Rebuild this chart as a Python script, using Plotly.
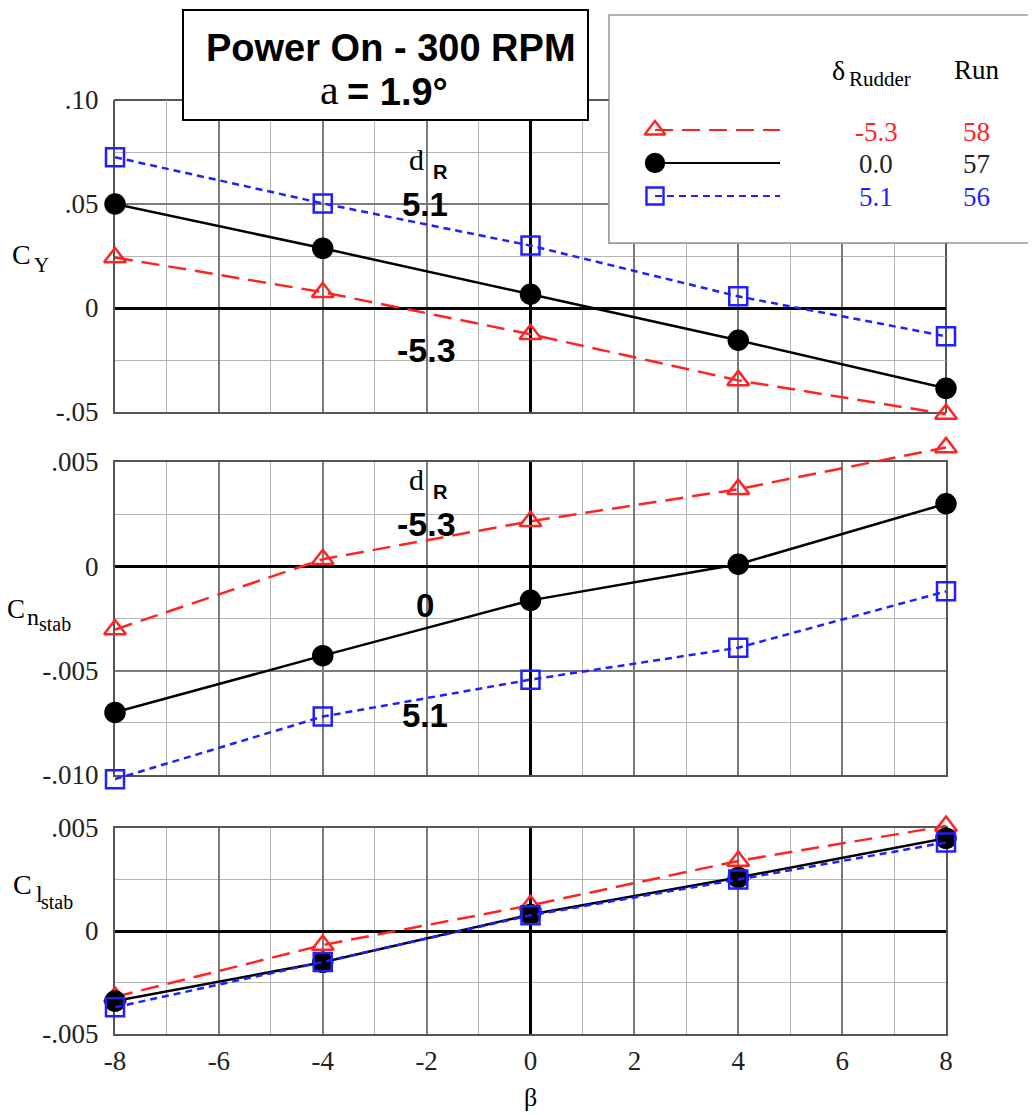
import plotly.graph_objects as go

OFF = 8  # page body margin of the browser
W, H = 1036 - OFF, 1115 - OFF

beta = [-8, -4, 0, 4, 8]

# C_Y
cy_m53 = [0.0243, 0.0076, -0.0126, -0.0348, -0.0510]
cy_0 = [0.0500, 0.0287, 0.0066, -0.0155, -0.0386]
cy_51 = [0.0725, 0.0503, 0.0300, 0.0056, -0.0136]

# C_n stab
cn_m53 = [-0.00303, 0.00034, 0.00216, 0.00370, 0.00570]
cn_0 = [-0.00700, -0.00428, -0.00163, 0.00010, 0.00300]
cn_51 = [-0.01020, -0.00720, -0.00543, -0.00390, -0.00120]

# C_l stab
cl_m53 = [-0.00320, -0.00068, 0.00125, 0.00340, 0.00510]
cl_0 = [-0.00340, -0.00152, 0.00080, 0.00260, 0.00450]
cl_51 = [-0.00370, -0.00150, 0.00076, 0.00250, 0.00430]

x_ticks = [-8, -6, -4, -2, 0, 2, 4, 6, 8]
cy_ticks = [-0.05, 0, 0.05, 0.10]
cy_labels = ["-.05", "0", ".05", ".10"]
cn_ticks = [-0.010, -0.005, 0, 0.005]
cn_labels = ["-.010", "-.005", "0", ".005"]
cl_ticks = [-0.005, 0, 0.005]
cl_labels = ["-.005", "0", ".005"]

rudder_labels = ["-5.3", "0.0", "5.1"]
run_labels = ["58", "57", "56"]

RED = "#ff2424"
BLACK = "#000000"
BLUE = "#1f1fff"

styles = [
    dict(color=RED, dash="18px,9px", symbol="triangle-up-open", size=19),
    dict(color=BLACK, dash="solid", symbol="circle", size=19),
    dict(color=BLUE, dash="7px,5px", symbol="square-open", size=18),
]

def px_x(p):
    return (p - OFF) / W

def px_y(p):
    return 1 - (p - OFF) / H

X_L, X_R = 115, 946
xdom = [px_x(X_L), px_x(X_R)]
MAJ = "#7a7a7a"
MIN = "#b4b4b4"
FRAME = "#555"
tickfont = dict(family="Liberation Serif", size=27, color="#222")

panels = [
    (100, 412, [-0.05, 0.10], cy_ticks, cy_labels, 0.025, [cy_m53, cy_0, cy_51]),
    (462, 775, [-0.010, 0.005], cn_ticks, cn_labels, 0.0025, [cn_m53, cn_0, cn_51]),
    (828, 1034, [-0.005, 0.005], cl_ticks, cl_labels, 0.0025, [cl_m53, cl_0, cl_51]),
]

PAD = 22  # px of extra room for the data layer around each frame

# legend box (px)
LB_L, LB_T, LB_B = 609, 15, 243

fig = go.Figure()
layout = dict(width=W, height=H, margin=dict(l=0, r=0, t=0, b=0, autoexpand=False),
              paper_bgcolor="white", plot_bgcolor="rgba(0,0,0,0)", showlegend=False)

for i, (ptop, pbot, rng, tv, tt, mdt, series) in enumerate(panels):
    n = i + 1
    xs = "" if n == 1 else str(n)
    layout["xaxis" + xs] = dict(
        domain=xdom, range=[-8, 8], anchor="y" + xs,
        tickmode="array", tickvals=x_ticks,
        ticktext=[str(v) for v in x_ticks],
        showticklabels=(n == 3), ticks="", automargin=False,
        showgrid=True, gridcolor=MAJ, gridwidth=1.6,
        minor=dict(dtick=1, tick0=0, showgrid=True, gridcolor=MIN, gridwidth=1.3, ticks=""),
        zeroline=True, zerolinecolor="#000", zerolinewidth=2.8,
        showline=True, mirror=(n != 1), linecolor=FRAME, linewidth=2,
        tickfont=tickfont, ticklabelstandoff=2, fixedrange=True)
    layout["yaxis" + xs] = dict(
        domain=[px_y(pbot), px_y(ptop)], range=rng, anchor="x" + xs,
        tickmode="array", tickvals=tv, ticktext=tt, ticks="", automargin=False,
        showgrid=True, gridcolor=MAJ, gridwidth=1.6,
        minor=dict(dtick=mdt, tick0=0, showgrid=True, gridcolor=MIN, gridwidth=1.3, ticks=""),
        zeroline=True, zerolinecolor="#000", zerolinewidth=2.8,
        showline=True, mirror=(n != 1), linecolor=FRAME, linewidth=2,
        tickfont=tickfont, ticklabelstandoff=9, fixedrange=True)
    fig.add_trace(go.Scatter(x=[], y=[], xaxis="x" + xs, yaxis="y" + xs,
                             mode="lines", showlegend=False, hoverinfo="skip"))
    per_px = (rng[1] - rng[0]) / (pbot - ptop)
    dn = str(n + 4)
    layout["xaxis" + dn] = dict(domain=xdom, range=[-8, 8], visible=False, showgrid=False,
                                zeroline=False, anchor="y" + dn, fixedrange=True)
    layout["yaxis" + dn] = dict(domain=[px_y(pbot + PAD), px_y(ptop - PAD)],
                                range=[rng[0] - PAD * per_px, rng[1] + PAD * per_px],
                                visible=False, showgrid=False, zeroline=False,
                                anchor="x" + dn, fixedrange=True)
    for s, st in zip(series, styles):
        fig.add_trace(go.Scatter(
            x=beta, y=s, xaxis="x" + dn, yaxis="y" + dn, mode="lines+markers",
            line=dict(color=st["color"], width=2.5, dash=st["dash"]),
            marker=dict(symbol=st["symbol"], size=st["size"], color=st["color"],
                        line=dict(color=st["color"], width=2.5)),
            cliponaxis=False, showlegend=False))

# legend key samples on their own small axis
for i, st in enumerate(styles):
    fig.add_trace(go.Scatter(
        x=[0, 1], y=[i, i], xaxis="x4", yaxis="y4", mode="lines",
        line=dict(color=st["color"], width=2.2, dash=st["dash"]),
        showlegend=False, cliponaxis=False))
    fig.add_trace(go.Scatter(
        x=[0], y=[i], xaxis="x4", yaxis="y4", mode="markers",
        marker=dict(symbol=st["symbol"], size=st["size"] - 1, color=st["color"],
                    line=dict(color=st["color"], width=2.4)),
        showlegend=False, cliponaxis=False))

layout["xaxis4"] = dict(domain=[px_x(655), px_x(780)], range=[0, 1], visible=False,
                        anchor="y4", fixedrange=True)
layout["yaxis4"] = dict(domain=[px_y(212.5), px_y(113.5)], range=[2.5, -0.5], visible=False,
                        anchor="x4", fixedrange=True)

fig.update_layout(**layout)

t_top, t_bot, t_rng = panels[0][0], panels[0][1], panels[0][2]
def dx(p):
    return -8 + (p - X_L) * 16 / (X_R - X_L)
def dy(p):
    return t_rng[1] - (p - t_top) * (t_rng[1] - t_rng[0]) / (t_bot - t_top)

shapes = [
    dict(type="rect", xref="paper", yref="paper", x0=px_x(LB_L), x1=px_x(1060),
         y0=px_y(LB_B), y1=px_y(LB_T), fillcolor="white", line=dict(color="#999", width=1.5), layer="below"),
    dict(type="rect", xref="x", yref="y", x0=dx(LB_L), x1=dx(1060),
         y0=dy(LB_B), y1=dy(LB_T), fillcolor="white", line=dict(color="#999", width=1.5), layer="between"),
    dict(type="line", xref="paper", yref="paper", x0=px_x(X_L - 1), x1=px_x(LB_L),
         y0=px_y(t_top), y1=px_y(t_top), line=dict(color=FRAME, width=2), layer="below"),
    dict(type="line", xref="paper", yref="paper", x0=px_x(X_R), x1=px_x(X_R),
         y0=px_y(LB_B), y1=px_y(t_bot + 1), line=dict(color=FRAME, width=2), layer="below"),
    dict(type="rect", xref="paper", yref="paper", x0=px_x(183), x1=px_x(588),
         y0=px_y(120), y1=px_y(10), fillcolor="white", line=dict(color="#000", width=2), layer="above"),
]
fig.update_layout(shapes=shapes)

ann = []
def A(text, x, y, size, family="Liberation Serif", color="#000", xanchor="center", bold=False):
    t = f"<b>{text}</b>" if bold else text
    ann.append(dict(text=t, x=px_x(x), y=px_y(y), xref="paper", yref="paper",
                    showarrow=False, xanchor=xanchor, yanchor="middle",
                    font=dict(family=family, size=size, color=color)))

# title box
A("Power On - 300 RPM", 391, 48, 38, "Liberation Sans", bold=True)
A("a", 341, 90, 42, "Liberation Serif", xanchor="right")
A("<b>= 1.9°</b>", 345, 92, 38, "Liberation Sans", xanchor="left")

# legend header & rows
A("δ", 847, 70, 28, "Liberation Serif", xanchor="right")
A("Rudder", 847, 79, 21, "Liberation Serif", xanchor="left")
A("Run", 977, 70, 27, "Liberation Serif")
row_y = [132, 164, 197]
row_colors = [RED, "#222", BLUE]
for ry, rl, rn, c in zip(row_y, rudder_labels, run_labels, row_colors):
    A(rl, 876, ry, 27, "Liberation Serif", c)
    A(rn, 976, ry, 27, "Liberation Serif", c)

# y titles
A("C", 33, 254, 28, xanchor="right")
A("Y", 32, 265, 21, xanchor="left")
A("C", 27, 609, 27, xanchor="right")
A("n", 25, 617, 24, xanchor="left")
A("stab", 37, 624, 20, xanchor="left")
A("C", 34, 884, 28, xanchor="right")
A("l", 34, 894, 24, xanchor="left")
A("stab", 39, 902, 20, xanchor="left")

# x title
A("β", 530, 1097, 26)

# in-plot labels
A("d", 426, 159, 30, "Liberation Serif", xanchor="right")
A("<b>R</b>", 431, 172, 20, "Liberation Sans", xanchor="left")
A("5.1", 425, 204, 33, "Liberation Sans", bold=True)
A("-5.3", 426, 350, 34, "Liberation Sans", bold=True)
A("d", 426, 479, 30, "Liberation Serif", xanchor="right")
A("<b>R</b>", 431, 492, 20, "Liberation Sans", xanchor="left")
A("-5.3", 426, 524, 34, "Liberation Sans", bold=True)
A("0", 425, 605, 33, "Liberation Sans", bold=True)
A("5.1", 425, 715, 33, "Liberation Sans", bold=True)

fig.update_layout(annotations=ann)

fig.write_html("out.html")
